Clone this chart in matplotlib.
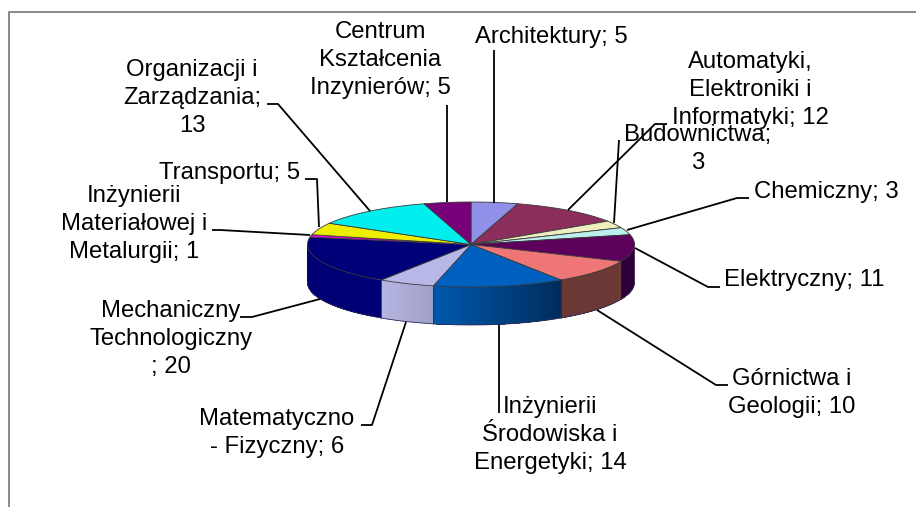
# -*- coding: utf-8 -*-
"""3D-looking pie chart of faculties, labels with leader lines."""

import numpy as np
import matplotlib
matplotlib.use("Agg")
import matplotlib.pyplot as plt
from matplotlib.colors import to_rgb

plt.rcParams['font.family'] = ['Liberation Sans', 'DejaVu Sans']

# -----------------------------
# Data (clockwise from 12 o'clock)
# -----------------------------
labels = ['Architektury; 5', 'Automatyki,\nElektroniki i\nInformatyki; 12',
          'Budownictwa;\n3', 'Chemiczny; 3', 'Elektryczny; 11',
          'Górnictwa i\nGeologii; 10', 'Inżynierii\nŚrodowiska i\nEnergetyki; 14',
          'Matematyczno\n- Fizyczny; 6', 'Mechaniczny\nTechnologiczny\n; 20',
          'Inżynierii\nMateriałowej i\nMetalurgii; 1', 'Transportu; 5',
          'Organizacji i\nZarządzania;\n13', 'Centrum\nKształcenia\nInzynierów; 5']
values = [5, 12, 3, 3, 11, 10, 14, 6, 20, 1, 5, 13, 5]

top_colors = ['#9090E8', '#8B2E5C', '#EEEEBE', '#BDEEEE', '#5C005C', '#EE7676',
              '#0060C0', '#B8B8E8', '#000078', '#EE00EE', '#EEEE00', '#00EEEE',
              '#780078']
side_left = ['#9090E8', '#8B2E5C', '#EEEEBE', '#BDEEEE', '#2C0038', '#6A3835',
             '#0058AC', '#B6B6E2', '#000074', '#EE00EE', '#EEEE00', '#00EEEE',
             '#780078']
side_right = ['#9090E8', '#8B2E5C', '#EEEEBE', '#BDEEEE', '#2C0038', '#6A3835',
              '#002C5C', '#A0A0C8', '#000074', '#EE00EE', '#EEEE00', '#00EEEE',
              '#780078']

# label centre positions in pixels
label_x = [551, 750, 698, 826, 804, 792, 550, 277, 171, 134, 230, 192, 380]
label_y = [37, 90, 149, 192, 280, 393, 435, 433, 339, 224, 173, 98, 60]

# leader lines in pixels
leaders = [
    [(494, 50), (494, 203)],
    [(667, 124), (655, 124), (568, 210)],
    [(619, 140), (614, 223)],
    [(749, 198), (737, 198), (627, 230)],
    [(720, 287), (708, 287), (635, 248)],
    [(728, 385), (716, 385), (597, 310)],
    [(499, 413), (499, 325)],
    [(361, 425), (372, 425), (406, 322)],
    [(240, 317), (252, 317), (320, 299)],
    [(212, 230), (220, 230), (310, 235)],
    [(305, 179), (317, 179), (319, 227)],
    [(267, 104), (278, 104), (370, 211)],
    [(447, 105), (447, 202)],
]

# -----------------------------
# Geometry of the pie
# -----------------------------
cx, cy = 471, 244.5
rx, ry = 163.5, 42.5
depth = 38

fig, ax = plt.subplots(figsize=(9.16, 5.07), dpi=100)
ax.set_position([0, 0, 1, 1])
ax.set_xlim(0, 916)
ax.set_ylim(507, 0)
ax.axis('off')


def rim(theta):
    return cx + rx * np.sin(theta), cy - ry * np.cos(theta)


edges = np.radians(np.cumsum([0] + values) / sum(values) * 360)

# chart frame, only left and top are visible
ax.plot([9, 9, 916], [507, 11.5, 11.5], color='#808080', lw=1.3, zorder=1)

# side wall, strips overlap so no seams show
for i in range(len(values)):
    a = max(edges[i], np.pi / 2)
    b = min(edges[i + 1], 3 * np.pi / 2)
    if b <= a:
        continue
    n = max(int((b - a) * 40), 2)
    t = np.linspace(a, b, n + 1)
    c0 = np.array(to_rgb(side_right[i]))
    c1 = np.array(to_rgb(side_left[i]))
    for k in range(n):
        tt = np.linspace(t[k], b, 40)
        x, y = rim(tt)
        col = c0 + (c1 - c0) * (k / max(n - 1, 1))
        ax.fill(np.r_[x, x[::-1]], np.r_[y, y[::-1] + depth], color=col, lw=0, zorder=2)
    # slice border on the wall
    if edges[i + 1] < 3 * np.pi / 2:
        x, y = rim(b)
        ax.plot([x, x], [y, y + depth], color='#222222', lw=0.5, zorder=3)

# bottom outline of the wall
t = np.linspace(np.pi / 2, 3 * np.pi / 2, 200)
x, y = rim(t)
ax.plot(x, y + depth, color='#30305A', lw=0.6, zorder=3)

# top face
for i in range(len(values)):
    t = np.linspace(edges[i], edges[i + 1], 80)
    x, y = rim(t)
    ax.fill(np.r_[cx, x], np.r_[cy, y], facecolor=top_colors[i],
            edgecolor='#3A3A3A', lw=0.6, zorder=4)

# leader lines
for pts in leaders:
    ax.plot([p[0] for p in pts], [p[1] for p in pts], color='black', lw=1.3,
            solid_capstyle='butt', zorder=5)

# labels
for i in range(len(labels)):
    ax.text(label_x[i], label_y[i], labels[i], fontsize=17.2, color='black',
            ha='center', va='center', linespacing=1.33, zorder=6)

fig.savefig('out.png', dpi=100, facecolor='white')
